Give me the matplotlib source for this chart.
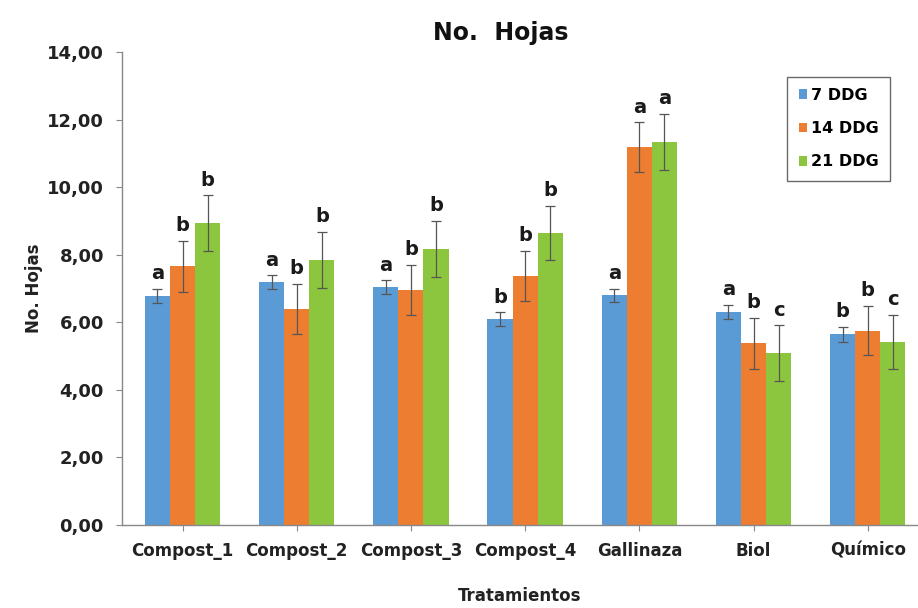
import numpy as np
import matplotlib.pyplot as plt
from matplotlib.ticker import FuncFormatter

# datos
tratamientos = ["Compost_1", "Compost_2", "Compost_3", "Compost_4", "Gallinaza", "Biol", "Químico"]
series = ["7 DDG", "14 DDG", "21 DDG"]

hojas_7 = [6.78, 7.19, 7.04, 6.09, 6.80, 6.31, 5.65]
hojas_14 = [7.66, 6.39, 6.95, 7.37, 11.18, 5.38, 5.75]
hojas_21 = [8.93, 7.84, 8.17, 8.64, 11.33, 5.09, 5.42]

err_7 = [0.20, 0.20, 0.20, 0.20, 0.20, 0.20, 0.22]
err_14 = [0.75, 0.74, 0.74, 0.74, 0.74, 0.75, 0.73]
err_21 = [0.83, 0.83, 0.83, 0.81, 0.83, 0.82, 0.81]

letras_7 = ["a", "a", "a", "b", "a", "a", "b"]
letras_14 = ["b", "b", "b", "b", "a", "b", "b"]
letras_21 = ["b", "b", "b", "b", "a", "c", "c"]

colores = ["#5B9BD5", "#ED7D31", "#8CC63F"]

plt.rcParams['font.family'] = ['DejaVu Sans']
plt.rcParams['font.weight'] = 'bold'

fig = plt.figure(figsize=(9.18, 6.08), dpi=100)
ax = fig.add_axes([122 / 918, 1 - 525 / 608, 796 / 918, 473 / 608])

x = np.arange(len(tratamientos))
ancho = 0.22

valores = [hojas_7, hojas_14, hojas_21]
errores = [err_7, err_14, err_21]
letras = [letras_7, letras_14, letras_21]

for i in range(3):
    pos = x + (i - 1) * ancho
    ax.bar(pos, valores[i], ancho, color=colores[i], label=series[i], zorder=2)
    ax.errorbar(pos, valores[i], yerr=errores[i], fmt='none', ecolor='#555555',
                elinewidth=0.9, capsize=3.5, capthick=0.9, zorder=3)
    for j in range(len(tratamientos)):
        ax.text(pos[j], valores[i][j] + errores[i][j] + 0.17, letras[i][j],
                ha='center', va='bottom', fontsize=14, fontweight='bold', color='#1a1a1a')

ax.set_xlim(-0.53, 6.44)
ax.set_ylim(0, 14)
ax.set_yticks(np.arange(0, 15, 2))
ax.yaxis.set_major_formatter(FuncFormatter(lambda v, p: f"{v:.2f}".replace(".", ",")))
ax.set_xticks(x)
ax.set_xticklabels(tratamientos)

for s in ["top", "right"]:
    ax.spines[s].set_visible(False)
for s in ["left", "bottom"]:
    ax.spines[s].set_color("#888888")
    ax.spines[s].set_linewidth(1.0)

ax.tick_params(axis='both', colors='#888888', labelcolor='#222222', length=4)
ax.tick_params(axis='y', labelsize=13, pad=9)
ax.tick_params(axis='x', labelsize=12, pad=8)

ax.set_ylabel("No. Hojas", fontsize=12, fontweight='bold', color='#222222', labelpad=3)
ax.set_xlabel("Tratamientos", fontsize=12, fontweight='bold', color='#222222', labelpad=20)
fig.text(0.545, 1 - 33 / 608, "No.  Hojas", ha='center', va='center', fontsize=17,
         fontweight='bold', color='#111111')

leg = ax.legend(loc='upper left', bbox_to_anchor=(0.826, 0.965), fontsize=11.5, frameon=True,
                fancybox=False, edgecolor='#444444', handlelength=0.55, handleheight=0.55,
                handletextpad=0.25, labelspacing=1.15, borderpad=0.7)
leg.get_frame().set_linewidth(1.0)

fig.savefig("out.png", dpi=100)
